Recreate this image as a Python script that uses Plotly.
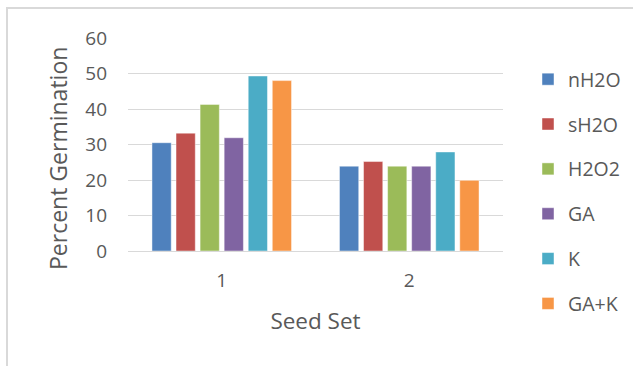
import plotly.graph_objects as go

# Seed sets on the x axis
seed_sets = ["1", "2"]

# Percent germination per treatment, one value per seed set
treatments = ["nH2O", "sH2O", "H2O2", "GA", "K", "GA+K"]
nh2o = [30.5, 23.9]
sh2o = [33.2, 25.2]
h2o2 = [41.3, 23.9]
ga = [31.9, 23.9]
k = [49.3, 27.9]
ga_k = [48.0, 19.9]
series_values = [nh2o, sh2o, h2o2, ga, k, ga_k]

colors = ["#4F81BD", "#C0504D", "#9BBB59", "#8064A2", "#4BACC6", "#F79646"]

y_ticks = [0, 10, 20, 30, 40, 50, 60]

W, H = 633, 366
ML, MR, MT, MB = 128, 130, 38, 115
PW, PH = W - ML - MR, H - MT - MB

text_color = "#595959"
grid_color = "#D9D9D9"
font_family = "Open Sans, Noto Sans, DejaVu Sans, sans-serif"

fig = go.Figure()
for name, vals, col in zip(treatments, series_values, colors):
    fig.add_trace(go.Bar(
        name=name,
        x=seed_sets,
        y=vals,
        marker=dict(color=col, line=dict(color="rgba(255,255,255,0.45)", width=1)),
        legendgroup=name,
    ))

# Outer chart-area frame (open at the right and bottom edges of the page)
fig.add_shape(
    type="rect", xref="paper", yref="paper",
    x0=(7 - ML) / PW, x1=(W + 20 - ML) / PW,
    y0=(H - MB - (H + 20)) / PH, y1=(H - MB - 8) / PH,
    line=dict(color=grid_color, width=2), fillcolor="rgba(0,0,0,0)",
    layer="below",
)

# Y-axis title, centred a little below the middle of the plot area
fig.add_annotation(
    text="Percent Germination", textangle=-90,
    xref="paper", yref="paper",
    x=(58 - ML) / PW, y=(H - MB - 159) / PH,
    xanchor="center", yanchor="middle", showarrow=False,
    font=dict(size=23, color=text_color),
)

fig.update_layout(
    width=W, height=H,
    margin=dict(l=ML, r=MR, t=MT, b=MB, pad=0, autoexpand=False),
    paper_bgcolor="white", plot_bgcolor="white",
    barmode="group", bargap=0.23, bargroupgap=0.2,
    font=dict(family=font_family, size=19, color=text_color),
    showlegend=True,
    legend=dict(
        x=1.0 + 25 / PW, xanchor="left", y=1.0 - 22 / PH, yanchor="top",
        font=dict(size=19.5, color=text_color),
        tracegroupgap=16.5, bgcolor="rgba(0,0,0,0)",
        itemwidth=30, maxheight=600,
    ),
    xaxis=dict(
        showgrid=False, showline=False, zeroline=False, ticks="",
        tickfont=dict(size=19, color=text_color), ticklabelstandoff=16,
        title=dict(text="Seed Set", font=dict(size=22.5, color=text_color), standoff=21),
    ),
    yaxis=dict(
        range=[0, 60], tickvals=y_ticks, showgrid=True, gridcolor=grid_color, gridwidth=1.3,
        zeroline=True, zerolinecolor=grid_color, zerolinewidth=1.3,
        showline=False, ticks="", ticklabelstandoff=20,
        tickfont=dict(size=19, color=text_color),
    ),
)

fig.write_html("out.html")
